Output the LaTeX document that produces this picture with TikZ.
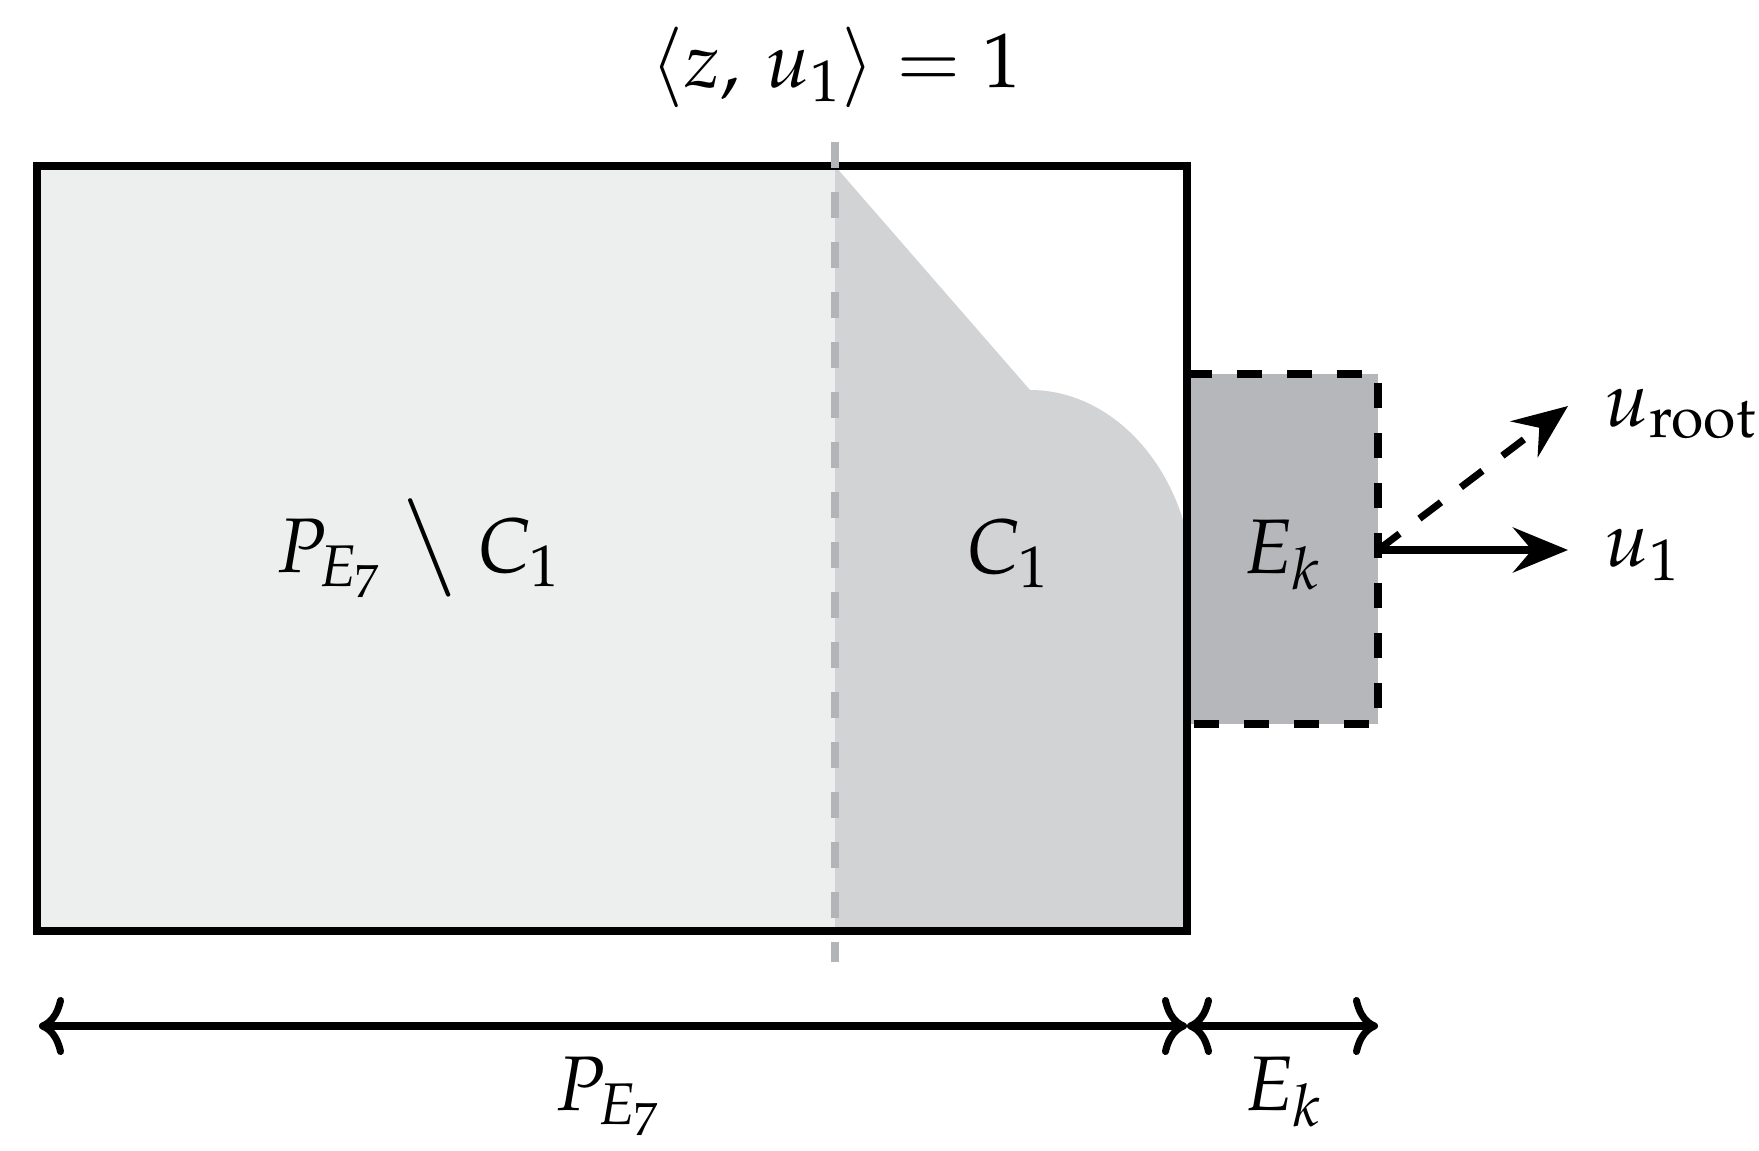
\documentclass[tikz,border=0pt]{standalone}
\usepackage{mathpazo}
\usepackage{graphicx}
\newcommand{\setdiff}{\mathbin{\mskip1mu\scalebox{1.35}[1.22]{$\backslash$}\mskip1mu}}
\usetikzlibrary{arrows.meta}

\definecolor{paleregion}{HTML}{EDEFEE}
\definecolor{coneregion}{HTML}{D1D3D4}
\definecolor{ekregion}{HTML}{B6B7BA}
\definecolor{planegray}{HTML}{B3B4B7}

\begin{document}
\begin{tikzpicture}[x=0.01cm,y=-0.01cm,
    font=\fontsize{22}{26}\selectfont,
    border/.style={line width=2pt},
    plane/.style={planegray,line width=2.2pt,dash pattern=on 0.26cm off 0.24cm},
    boxdash/.style={line width=2pt,dash pattern=on 0.25cm off 0.25cm},
    dimline/.style={line width=2pt,
      {Computer Modern Rightarrow[length=0.25cm,width=0.58cm]}-{Computer Modern Rightarrow[length=0.25cm,width=0.58cm]}},
    dirarrow/.style={line width=2pt,-{Stealth[length=0.55cm,width=0.45cm,inset=0.19cm]}}]
      \useasboundingbox (0,0) rectangle (1759,1151) ;
      % regions
      \fill[paleregion] (37,166) rectangle (835,931) ;
      \fill[coneregion] (835,166) -- (1030,390) .. controls (1100,390) and (1160,445) .. (1183,520)
        -- (1187,520) -- (1187,931) -- (835,931) -- cycle ;
      \fill[ekregion] (1187,374) rectangle (1378,724) ;
      \draw[border] (37,166) rectangle (1187,931) ;
      \draw[boxdash] (1187,374) -- (1378,374) -- (1378,724) -- (1187,724) ;
      \draw[plane] (835,142) -- (835,962) ;
      % directions
      \coordinate (ekout) at (1378,550) ;
      \coordinate (rootend) at (1568,406) ;
      \coordinate (oneend) at (1568,550) ;
      \draw[dirarrow,dash pattern=on 0.27cm off 0.25cm] (ekout) -- (rootend) ;
      \draw[dirarrow] (ekout) -- (oneend) ;
      \node[anchor=base west,inner sep=0pt] (uroot) at (1604,426) {$u_{\mathrm{root}}$} ;
      \node[anchor=base west,inner sep=0pt] (uone) at (1604,566) {$u_1$} ;
      % labels
      \node[anchor=base] (topeq) at (836,87) {$\langle z,\, u_1\rangle = 1$} ;
      \node[anchor=base] (pminus) at (418,572) {$P_{E_7} \setdiff C_1$} ;
      \node[anchor=base] (cone) at (1008,573) {$C_1$} ;
      \node[anchor=base] (ek) at (1282,573) {$E_k$} ;
      % widths
      \coordinate (dl) at (39,1026) ;
      \coordinate (dm) at (1187,1026) ;
      \coordinate (dr) at (1378,1026) ;
      \draw[dimline] (dl) -- (dm) ;
      \draw[dimline] (dm) -- (dr) ;
      \node[anchor=base] (pbot) at (608,1110) {$P_{E_7}$} ;
      \node[anchor=base] (ekbot) at (1283,1110) {$E_k$} ;
    \end{tikzpicture}
\end{document}
